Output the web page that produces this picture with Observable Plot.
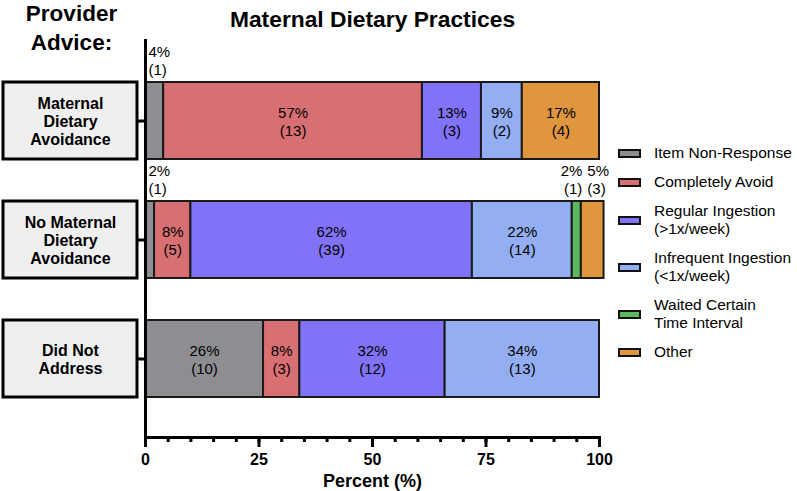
<!DOCTYPE html>
<html><head><meta charset="utf-8">
<script src="https://cdn.jsdelivr.net/npm/d3@7"></script>
<script src="https://cdn.jsdelivr.net/npm/@observablehq/plot@0.6"></script>
<style>
body{margin:0;background:#fff;font-family:"Liberation Sans",Arial,sans-serif;}
#wrap{position:relative;width:797px;height:491px;}
#legend{position:absolute;left:618px;top:144px;display:flex;flex-direction:column;}
.item{display:flex;align-items:center;font-size:15.5px;line-height:18px;color:#000;white-space:pre;margin-bottom:11px;}
.sw{width:19px;height:5px;border:2.5px solid #111;margin-right:13px;flex:none;}
</style></head><body><div id="wrap"></div>
<script>
const titleText = "Maternal Dietary Practices";
const yTitle = "Provider\nAdvice:";
const xLabel = "Percent (%)";
const groups = ["Maternal Dietary Avoidance", "No Maternal Dietary Avoidance", "Did Not Address"];
const groupLabels = ["Maternal\nDietary\nAvoidance", "No Maternal\nDietary\nAvoidance", "Did Not\nAddress"];
const categories = ["Item Non-Response", "Completely Avoid", "Regular Ingestion (>1x/week)", "Infrequent Ingestion (<1x/week)", "Waited Certain Time Interval", "Other"];
const legendLabels = ["Item Non-Response", "Completely Avoid", "Regular Ingestion\n(>1x/week)", "Infrequent Ingestion\n(<1x/week)", "Waited Certain\nTime Interval", "Other"];
const colors = ["#8e8e92", "#d87073", "#8073f7", "#93aef2", "#5cb85f", "#df963f"];
const pctMaternal = [4, 57, 13, 9, 0, 17];
const nMaternal = [1, 13, 3, 2, 0, 4];
const pctNoMaternal = [2, 8, 62, 22, 2, 5];
const nNoMaternal = [1, 5, 39, 14, 1, 3];
const pctNotAddress = [26, 8, 32, 34, 0, 0];
const nNotAddress = [10, 3, 12, 13, 0, 0];
const majorTicks = [0, 25, 50, 75, 100];
const minorTicks = d3.range(0, 101, 5);

const seriesPct = [pctMaternal, pctNoMaternal, pctNotAddress];
const seriesN = [nMaternal, nNoMaternal, nNotAddress];
const rows = [];
groups.forEach((g, gi) => {
  let acc = 0;
  const nz = categories.map((c, ci) => ci).filter(ci => seriesPct[gi][ci] > 0);
  nz.forEach((ci, k) => {
    const p = seriesPct[gi][ci];
    rows.push({group: g, cat: categories[ci], pct: p, n: seriesN[gi][ci], x1: acc, x2: acc + p,
      label: `${p}%\n(${seriesN[gi][ci]})`,
      pos: p >= 8 ? "inside" : k === 0 ? "first" : k === nz.length - 1 ? "last" : "mid"});
    acc += p;
  });
});

const chart = Plot.plot({
  width: 797, height: 491,
  marginLeft: 145, marginRight: 198, marginTop: 41, marginBottom: 54,
  style: {fontFamily: "'Liberation Sans', Arial, sans-serif", fontSize: "15px", color: "#000", background: "#fff"},
  x: {domain: [0, 100], label: null},
  y: {domain: groups, paddingInner: 0.356, paddingOuter: 0.335, label: null},
  color: {domain: categories, range: colors},
  marks: [
    Plot.barX(rows, {x1: "x1", x2: "x2", y: "group", fill: "cat", stroke: "#1a1a1a", strokeWidth: 2}),
    Plot.barX(groups, {x1: () => 0, x2: () => 0, y: d => d, fill: "#efefef", stroke: "#000", strokeWidth: 3, insetLeft: -142, insetRight: 8}),
    Plot.text(groups, {x: () => 0, y: d => d, text: (d, i) => groupLabels[i], dx: -75, fontWeight: "bold", fontSize: 16, lineHeight: 1.15}),
    Plot.text(rows.filter(d => d.pos === "inside"), {x: d => (d.x1 + d.x2) / 2, y: "group", text: "label", fontSize: 15, lineHeight: 1.2}),
    Plot.text(rows.filter(d => d.pos === "first"), {x: "x1", y: "group", text: "label", fontSize: 15, lineHeight: 1.2, textAnchor: "start", lineAnchor: "bottom", dx: 3, dy: -46.5}),
    Plot.text(rows.filter(d => d.pos === "mid"), {x: "x2", y: "group", text: "label", fontSize: 15, lineHeight: 1.2, textAnchor: "end", lineAnchor: "bottom", dx: 1, dy: -46.5}),
    Plot.text(rows.filter(d => d.pos === "last"), {x: "x1", y: "group", text: "label", fontSize: 15, lineHeight: 1.2, textAnchor: "start", lineAnchor: "bottom", dx: 6, dy: -46.5}),
    Plot.ruleX([0], {strokeWidth: 3, stroke: "#000", insetTop: -2}),
    Plot.axisY({tickSize: 8, text: null, strokeWidth: 3, stroke: "#000", label: null}),
    Plot.frame({anchor: "bottom", strokeWidth: 3, stroke: "#000"}),
    Plot.axisX({ticks: minorTicks, tickSize: 5, text: null, strokeWidth: 3, label: null}),
    Plot.axisX({ticks: majorTicks, tickSize: 10, tickPadding: 6, strokeWidth: 3, fontSize: 16, fontWeight: "bold", label: null}),
    Plot.text([xLabel], {text: d => d, frameAnchor: "bottom", lineAnchor: "bottom", dy: 49, fontSize: 18, fontWeight: "bold"}),
    Plot.text([titleText], {text: d => d, frameAnchor: "top", lineAnchor: "bottom", dy: -15, fontSize: 22.8, fontWeight: "bold"}),
    Plot.text([yTitle], {text: d => d, frameAnchor: "top-left", textAnchor: "middle", lineAnchor: "bottom", dx: -74, dy: 8, fontSize: 22.5, fontWeight: "bold", lineHeight: 1.27})
  ]
});
const wrap = document.getElementById("wrap");
wrap.appendChild(chart);
const legend = document.createElement("div");
legend.id = "legend";
legendLabels.forEach((lab, i) => {
  const item = document.createElement("div");
  item.className = "item";
  const sw = document.createElement("span");
  sw.className = "sw";
  sw.style.background = colors[i];
  const t = document.createElement("span");
  t.textContent = lab;
  item.appendChild(sw); item.appendChild(t);
  legend.appendChild(item);
});
wrap.appendChild(legend);
</script></body></html>
